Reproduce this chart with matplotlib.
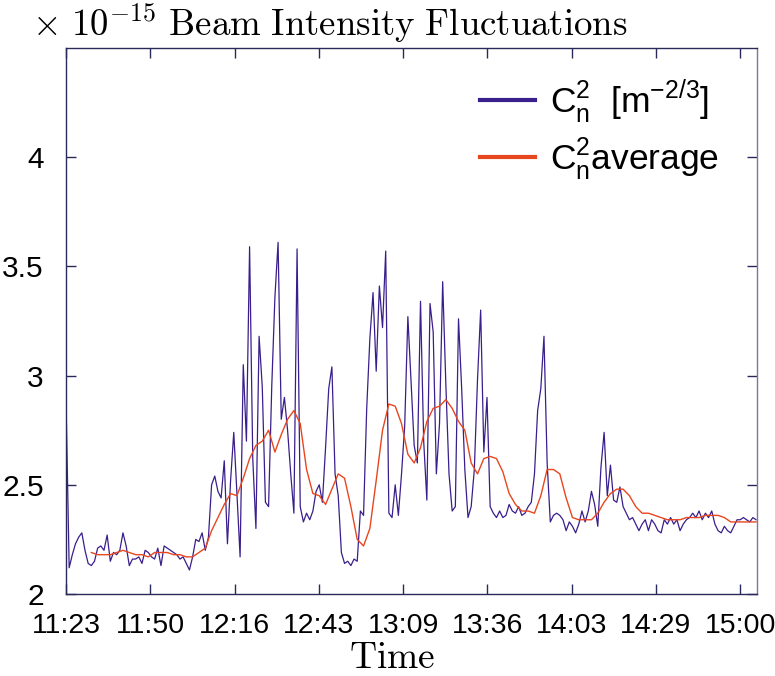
import numpy as np
import matplotlib; matplotlib.use("Agg")
import matplotlib.pyplot as plt

# minutes after 11:23, one sample per minute
raw_t = np.arange(219)
cn2 = [2.89, 2.12, 2.18, 2.23, 2.26, 2.28, 2.20, 2.14, 2.13, 2.15,
       2.21, 2.22, 2.20, 2.27, 2.15, 2.19, 2.18, 2.20, 2.28, 2.22,
       2.13, 2.16, 2.16, 2.17, 2.14, 2.20, 2.19, 2.17, 2.16, 2.21,
       2.13, 2.22, 2.21, 2.20, 2.19, 2.18, 2.16, 2.17, 2.14, 2.11,
       2.17, 2.25, 2.24, 2.28, 2.20, 2.26, 2.50, 2.54, 2.47, 2.44,
       2.61, 2.23, 2.52, 2.74, 2.46, 2.17, 3.05, 2.70, 3.59, 2.62,
       2.30, 3.18, 2.95, 2.42, 2.40, 2.95, 3.36, 3.61, 2.80, 2.90,
       2.75, 2.55, 2.37, 3.58, 2.40, 2.33, 2.37, 2.34, 2.38, 2.47,
       2.50, 2.42, 2.67, 2.94, 3.04, 2.55, 2.45, 2.19, 2.14, 2.15,
       2.13, 2.16, 2.15, 2.38, 2.36, 2.85, 3.17, 3.38, 3.02, 3.41,
       3.22, 3.57, 2.37, 2.35, 2.50, 2.36, 2.55, 2.77, 3.27, 2.97,
       2.68, 2.60, 3.34, 2.70, 2.43, 3.33, 3.20, 2.55, 2.78, 3.43,
       2.96, 2.55, 2.38, 2.40, 3.26, 2.94, 2.57, 2.35, 2.40, 2.57,
       2.98, 3.30, 2.65, 2.90, 2.40, 2.37, 2.35, 2.38, 2.35, 2.36,
       2.41, 2.38, 2.37, 2.40, 2.36, 2.37, 2.40, 2.42, 2.55, 2.84,
       2.94, 3.18, 2.60, 2.33, 2.36, 2.37, 2.36, 2.34, 2.29, 2.33,
       2.31, 2.28, 2.32, 2.38, 2.33, 2.38, 2.47, 2.41, 2.31, 2.58,
       2.74, 2.45, 2.59, 2.43, 2.42, 2.49, 2.40, 2.37, 2.34, 2.35,
       2.32, 2.29, 2.32, 2.34, 2.29, 2.34, 2.32, 2.29, 2.28, 2.34,
       2.32, 2.35, 2.32, 2.34, 2.29, 2.32, 2.34, 2.35, 2.37, 2.35,
       2.38, 2.34, 2.37, 2.35, 2.38, 2.32, 2.29, 2.28, 2.31, 2.29,
       2.28, 2.31, 2.34, 2.34, 2.35, 2.34, 2.33, 2.35, 2.34]

avg_t = np.arange(8, 219, 2)
cn2_avg = [2.19, 2.18, 2.18, 2.18, 2.19, 2.20, 2.19, 2.18, 2.18, 2.17,
           2.19, 2.19, 2.19, 2.18, 2.18, 2.17, 2.17, 2.19, 2.21, 2.29,
           2.35, 2.41, 2.46, 2.45, 2.53, 2.62, 2.68, 2.70, 2.75, 2.65,
           2.73, 2.80, 2.84, 2.78, 2.57, 2.46, 2.45, 2.41, 2.48, 2.55,
           2.53, 2.40, 2.25, 2.22, 2.30, 2.52, 2.75, 2.87, 2.86, 2.78,
           2.64, 2.60, 2.67, 2.79, 2.85, 2.86, 2.89, 2.85, 2.79, 2.75,
           2.60, 2.55, 2.62, 2.63, 2.62, 2.56, 2.46, 2.41, 2.38, 2.38,
           2.37, 2.45, 2.57, 2.57, 2.55, 2.44, 2.35, 2.34, 2.34, 2.34,
           2.37, 2.42, 2.46, 2.48, 2.48, 2.45, 2.40, 2.37, 2.37, 2.36,
           2.35, 2.34, 2.34, 2.34, 2.35, 2.35, 2.35, 2.36, 2.36, 2.36,
           2.35, 2.33, 2.33, 2.33, 2.33, 2.33]

tick_labels = ["11:23", "11:50", "12:16", "12:43", "13:09", "13:36", "14:03", "14:29", "15:00"]
tick_step = 26.625
yticks = [2, 2.5, 3, 3.5, 4]
ytick_labels = ["2", "2.5", "3", "3.5", "4"]

plt.rcParams["font.family"] = ["Liberation Sans", "DejaVu Sans"]

fig = plt.figure(figsize=(7.75, 6.76), dpi=100)
ax = fig.add_axes([66/775, 1 - 594/676, (757 - 66)/775, (594 - 48)/676])

ax.plot(raw_t, cn2, color="#3a1e8c", lw=0.9,
        label=r"C$_\mathregular{n}^\mathregular{2}$  [m$^\mathregular{-2/3}$]")
ax.plot(avg_t, cn2_avg, color="#e8461e", lw=1.0,
        label=r"C$_\mathregular{n}^\mathregular{2}$average")

ax.set_xlim(0, 218.3)
ax.set_ylim(2, 4.5)
ax.set_xticks([i * tick_step for i in range(len(tick_labels))])
ax.set_xticklabels(tick_labels)
ax.set_yticks(yticks)
ax.set_yticklabels(ytick_labels)
ax.tick_params(direction="in", top=True, right=True, length=7, width=1,
               color="#2a2a5a")
ax.tick_params(axis="x", pad=14, labelsize=20.5)
ax.tick_params(axis="y", pad=16, labelsize=21.5)
for s in ax.spines.values():
    s.set_color("#2a2a5a")
    s.set_linewidth(1.0)
ax.spines["right"].set_color("#7a7a98")

leg = ax.legend(loc="upper right", frameon=False, fontsize=25.5,
                handlelength=1.55, handletextpad=0.4, labelspacing=0.3,
                borderaxespad=0.2, bbox_to_anchor=(0.975, 0.985))
for h in leg.get_lines():
    h.set_linewidth(3)

fig.text(32/775, 1 - 36/676,
         r"$\times\ 10^{-15}\ \mathrm{Beam\ Intensity\ Fluctuations}$",
         fontsize=26.5, math_fontfamily="cm", ha="left", va="baseline")
fig.text(392/775, 1 - 668/676, r"$\mathrm{Time}$", fontsize=27,
         math_fontfamily="cm", ha="center", va="baseline")

fig.savefig("out.png", dpi=100)
